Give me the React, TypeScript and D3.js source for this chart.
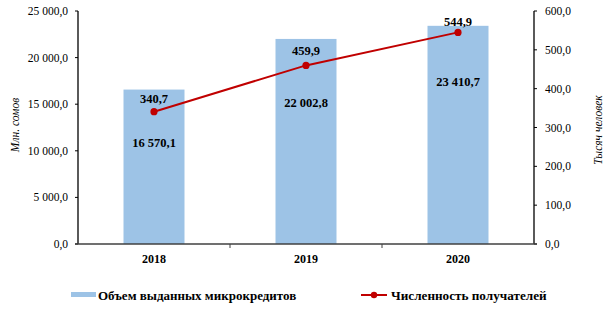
import React from "react";
import * as d3 from "d3";

const categories = ["2018", "2019", "2020"];
const volumeValues = [16570.1, 22002.8, 23410.7];
const recipientValues = [340.7, 459.9, 544.9];
const leftTicks = [0, 5000, 10000, 15000, 20000, 25000];
const rightTicks = [0, 100, 200, 300, 400, 500, 600];
const barLabelOffsets = [53, 64, 56];
const lineLabelOffsets = [13, 15, 11];

const W = 613;
const H = 314;
const M = { left: 78, right: 534, top: 11, bottom: 244 };
const FONT = "'Liberation Serif', 'Times New Roman', 'DejaVu Serif', serif";
const BAR = "#9DC3E6";
const RED = "#C00000";

const fmt = (v: number) => {
  const s = d3.format(",.1f")(v);
  return s.replace(/,/g, "\u00A0").replace(".", ",");
};

export default function App() {
  const xOuter = d3.scaleBand().domain(categories).range([M.left, M.right]);
  const yL = d3.scaleLinear().domain([0, 25000]).range([M.bottom, M.top]);
  const yR = d3.scaleLinear().domain([0, 600]).range([M.bottom, M.top]);
  const cx = (c: string) => (xOuter(c) as number) + xOuter.bandwidth() / 2;
  const bw = 61;
  const line = d3
    .line<number>()
    .x((_, i) => cx(categories[i]))
    .y((d) => yR(d));
  const ts = { fontFamily: FONT } as React.CSSProperties;

  return (
    <svg width={W} height={H} style={{ position: "absolute", left: 0, top: 0, background: "#fff", fontFamily: FONT }}>
      <rect x={0} y={0} width={W} height={H} fill="#fff" />
      {volumeValues.map((v, i) => (
        <rect key={i} x={cx(categories[i]) - bw / 2} y={yL(v)} width={bw} height={yL(0) - yL(v)} fill={BAR} />
      ))}
      <line x1={M.left} x2={M.left} y1={M.top} y2={M.bottom} stroke="#000" strokeWidth={1.3} />
      {leftTicks.map((t) => (
        <g key={t}>
          <line x1={M.left - 3} x2={M.left} y1={yL(t)} y2={yL(t)} stroke="#000" strokeWidth={1} />
          <text style={ts} x={68} y={yL(t)} dy="0.35em" textAnchor="end" fontSize={11.5} fill="#000">
            {fmt(t)}
          </text>
        </g>
      ))}
      <line x1={M.right} x2={M.right} y1={M.top} y2={M.bottom} stroke="#000" strokeWidth={1.3} />
      {rightTicks.map((t) => (
        <g key={t}>
          <line x1={M.right} x2={M.right + 3} y1={yR(t)} y2={yR(t)} stroke="#000" strokeWidth={1} />
          <text style={ts} x={545} y={yR(t)} dy="0.35em" textAnchor="start" fontSize={11.5} fill="#000">
            {fmt(t)}
          </text>
        </g>
      ))}
      <line x1={M.left - 3} x2={M.right + 3} y1={M.bottom} y2={M.bottom} stroke="#404040" strokeWidth={1.5} />
      {categories.map((c, i) => (
        <g key={c}>
          {i > 0 && (
            <line x1={xOuter(c) as number} x2={xOuter(c) as number} y1={M.bottom} y2={M.bottom + 4} stroke="#404040" strokeWidth={1} />
          )}
          <text style={ts} x={cx(c)} y={259} dy="0.35em" textAnchor="middle" fontSize={12} fontWeight="bold" fill="#000">
            {c}
          </text>
        </g>
      ))}
      <text style={ts} transform={`translate(15,125) rotate(-90)`} textAnchor="middle" dy="0.35em" fontSize={11.5} fontStyle="italic" fill="#000">
        Млн. сомов
      </text>
      <text style={ts} transform={`translate(598,130) rotate(-90)`} textAnchor="middle" dy="0.35em" fontSize={11.5} fontStyle="italic" fill="#000">
        Тысяч человек
      </text>
      <path d={line(recipientValues) as string} fill="none" stroke={RED} strokeWidth={2} />
      {recipientValues.map((v, i) => (
        <circle key={i} cx={cx(categories[i])} cy={yR(v)} r={3.6} fill={RED} />
      ))}
      {volumeValues.map((v, i) => (
        <text style={ts} key={i} x={cx(categories[i])} y={yL(v) + barLabelOffsets[i]} dy="0.35em" textAnchor="middle" fontSize={12.5} fontWeight="bold" fill="#000">
          {fmt(v)}
        </text>
      ))}
      {recipientValues.map((v, i) => (
        <text style={ts} key={i} x={cx(categories[i])} y={yR(v) - lineLabelOffsets[i]} dy="0.35em" textAnchor="middle" fontSize={12.5} fontWeight="bold" fill="#000">
          {fmt(v)}
        </text>
      ))}
      <rect x={71} y={292} width={25} height={5} fill={BAR} />
      <text style={ts} x={98} y={295} dy="0.35em" fontSize={13} fontWeight="bold" fill="#000">
        Объем выданных микрокредитов
      </text>
      <line x1={361} x2={387} y1={295} y2={295} stroke={RED} strokeWidth={2} />
      <circle cx={374} cy={295} r={3.2} fill={RED} />
      <text style={ts} x={391} y={295} dy="0.35em" fontSize={13.2} fontWeight="bold" fill="#000">
        Численность получателей
      </text>
    </svg>
  );
}
